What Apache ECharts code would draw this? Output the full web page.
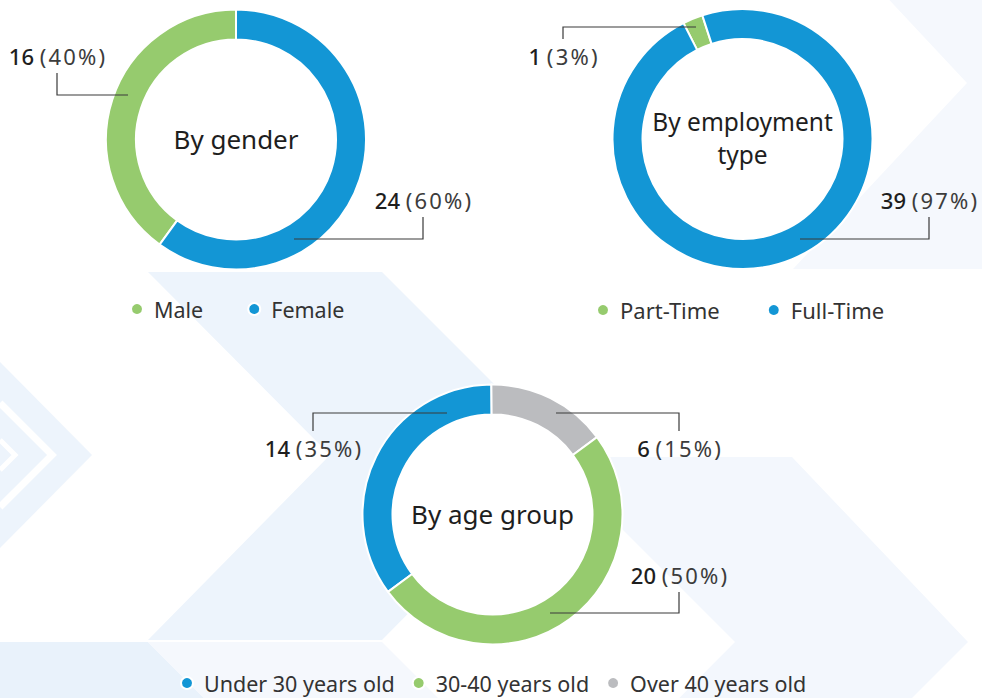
<!DOCTYPE html>
<html>
<head>
<meta charset="utf-8">
<title>Workforce breakdown</title>
<script src="https://cdn.jsdelivr.net/npm/echarts@6/dist/echarts.min.js"></script>
<style>
  html, body { margin: 0; padding: 0; background: #fff; }
  #chart { width: 982px; height: 698px; }
</style>
</head>
<body>
<div id="chart"></div>
<script>
// ---- data ----
var genderNames = ['Male', 'Female'];
var genderValues = [16, 24];

var employmentNames = ['Part-Time', 'Full-Time'];
var employmentValues = [1, 39];

// drawing order round the ring (clockwise), legend order kept separately
var ageNames = ['Under 30 years old', 'Over 40 years old', '30-40 years old'];
var ageValues = [14, 6, 20];
var ageLegend = ['Under 30 years old', '30-40 years old', 'Over 40 years old'];

var centerTitles = ['By gender', 'By employment\ntype', 'By age group'];

var BLUE = '#1396d5', GREEN = '#96cb6e', GREY = '#bbbcbf';
var colorOf = {
  'Male': GREEN, 'Female': BLUE,
  'Part-Time': GREEN, 'Full-Time': BLUE,
  'Under 30 years old': BLUE, '30-40 years old': GREEN, 'Over 40 years old': GREY
};

var FONT = '"Noto Sans", "Open Sans", sans-serif';

// pie placement
var centers = [[236, 139.5], [742.5, 139], [492.5, 514.5]];
var radius = [100, 130];

// leader lines: [startDx, startDy, elbowDx, elbowDy, verticalLength] relative to the pie centre
var genderLeaders = [[-108, -44.5, -179, -44.5, -22], [58, 99.5, 187, 99.5, -22]];
var employmentLeaders = [[-46.5, -112, -179.5, -112, 12], [57.5, 100, 186.5, 100, -22]];
var ageLeaders = [[-45.5, -101.5, -179.5, -101.5, 18], [63.5, -101.5, 186.5, -101.5, 18], [57.5, 98.5, 186.5, 98.5, -21]];

function makeData(names, values) {
  return names.map(function (n, i) {
    return { name: n, value: values[i], itemStyle: { color: colorOf[n] } };
  });
}

function leaderLayout(center, leaders) {
  return function (params) {
    var l = leaders[params.dataIndex];
    var ex = center[0] + l[2], ey = center[1] + l[3];
    var endY = ey + l[4];
    var dir = l[4] < 0 ? -1 : 1;
    return {
      x: ex,
      y: endY + dir * 17,
      align: 'center',
      verticalAlign: 'middle',
      labelLinePoints: [[center[0] + l[0], center[1] + l[1]], [ex, ey], [ex, endY]]
    };
  };
}

// the coloured ring
function ringSeries(names, values, center, startAngle) {
  return {
    type: 'pie',
    center: center,
    radius: radius,
    startAngle: startAngle,
    clockwise: true,
    silent: true,
    z: 2,
    itemStyle: { borderColor: '#fff', borderWidth: 2 },
    label: { show: false },
    labelLine: { show: false },
    data: makeData(names, values)
  };
}

// same ring again, see-through, so its labels and leader lines sit on top of the colours
function labelSeries(names, values, center, startAngle, leaders) {
  return {
    type: 'pie',
    center: center,
    radius: radius,
    startAngle: startAngle,
    clockwise: true,
    percentPrecision: 0,
    avoidLabelOverlap: false,
    silent: true,
    legendHoverLink: false,
    z: 3,
    itemStyle: { color: 'rgba(0,0,0,0)', borderWidth: 0 },
    label: {
      show: true,
      formatter: function (p) {
        var pct = ('(' + p.percent + '%)').split('').join('\u200a');
        return '{v|' + p.value + '}{p|\u00a0' + pct + '}';
      },
      rich: {
        v: { fontFamily: FONT, fontSize: 22, fontWeight: 500, color: '#1e1e1e' },
        p: { fontFamily: FONT, fontSize: 22, color: '#3c3c3c' }
      }
    },
    labelLine: { show: true, lineStyle: { color: '#3a3a3a', width: 1.2 } },
    labelLayout: leaderLayout(center, leaders),
    data: names.map(function (n, i) { return { name: n, value: values[i] }; })
  };
}

// pale chevron shapes behind the charts
var background = [
  { pts: [[793, -103], [1030, -103], [1210, 83], [1030, 269], [793, 269], [967, 83]], fill: '#f5f8fd' },
  { pts: [[148, 272], [382, 272], [565, 455], [382, 640], [148, 640], [330, 455]], fill: '#edf4fc' },
  { pts: [[550, 457], [792, 457], [968, 642], [782, 828], [550, 828], [735, 642]], fill: '#f3f7fd' },
  { pts: [[0, 642], [148, 642], [204, 698], [0, 698]], fill: '#e9f2fb' },
  { pts: [[148, 642], [382, 642], [438, 698], [204, 698]], fill: '#f5f8fd' },
  { pts: [[0, 362], [92, 455], [0, 548]], fill: '#edf4fc' }
];

var graphics = background.map(function (b) {
  return { type: 'polygon', silent: true, shape: { points: b.pts }, style: { fill: b.fill } };
});
graphics.push(
  { type: 'polyline', silent: true, shape: { points: [[0, 403], [52, 455], [0, 507]] }, style: { stroke: '#fff', lineWidth: 7, fill: null } },
  { type: 'polyline', silent: true, shape: { points: [[0, 440], [15, 455], [0, 470]] }, style: { stroke: '#fff', lineWidth: 5, fill: null } }
);
centers.forEach(function (c, i) {
  graphics.push({ type: 'circle', silent: true, shape: { cx: c[0], cy: c[1], r: radius[0] }, style: { fill: '#fff' } });
  graphics.push({
    type: 'text', silent: true, x: c[0], y: c[1] - 1,
    style: {
      text: centerTitles[i], align: 'center', verticalAlign: 'middle',
      fontFamily: FONT, fontSize: i === 1 ? 24.5 : 26, lineHeight: 33, fill: '#1e1e1e'
    }
  });
});

function legend(names, left, top, gap, size) {
  return {
    data: names,
    left: left,
    top: top,
    padding: 0,
    orient: 'horizontal',
    icon: 'circle',
    itemWidth: 24,
    itemHeight: 12,
    itemGap: gap,
    selectedMode: false,
    textStyle: { fontFamily: FONT, fontSize: size, color: '#333' }
  };
}

var chart = echarts.init(document.getElementById('chart'), null, { renderer: 'svg' });
chart.setOption({
  animation: false,
  backgroundColor: '#fff',
  graphic: graphics,
  legend: [
    legend(genderNames, 130, 298, 44, 21.5),
    legend(employmentNames, 596, 299, 47, 22),
    legend(ageLegend, 180, 672, 17, 21.5)
  ],
  series: [
    ringSeries(genderNames, genderValues, centers[0], 234),
    ringSeries(employmentNames, employmentValues, centers[1], 117),
    ringSeries(ageNames, ageValues, centers[2], 216.5),
    labelSeries(genderNames, genderValues, centers[0], 234, genderLeaders),
    labelSeries(employmentNames, employmentValues, centers[1], 117, employmentLeaders),
    labelSeries(ageNames, ageValues, centers[2], 216.5, ageLeaders)
  ]
});
</script>
</body>
</html>
